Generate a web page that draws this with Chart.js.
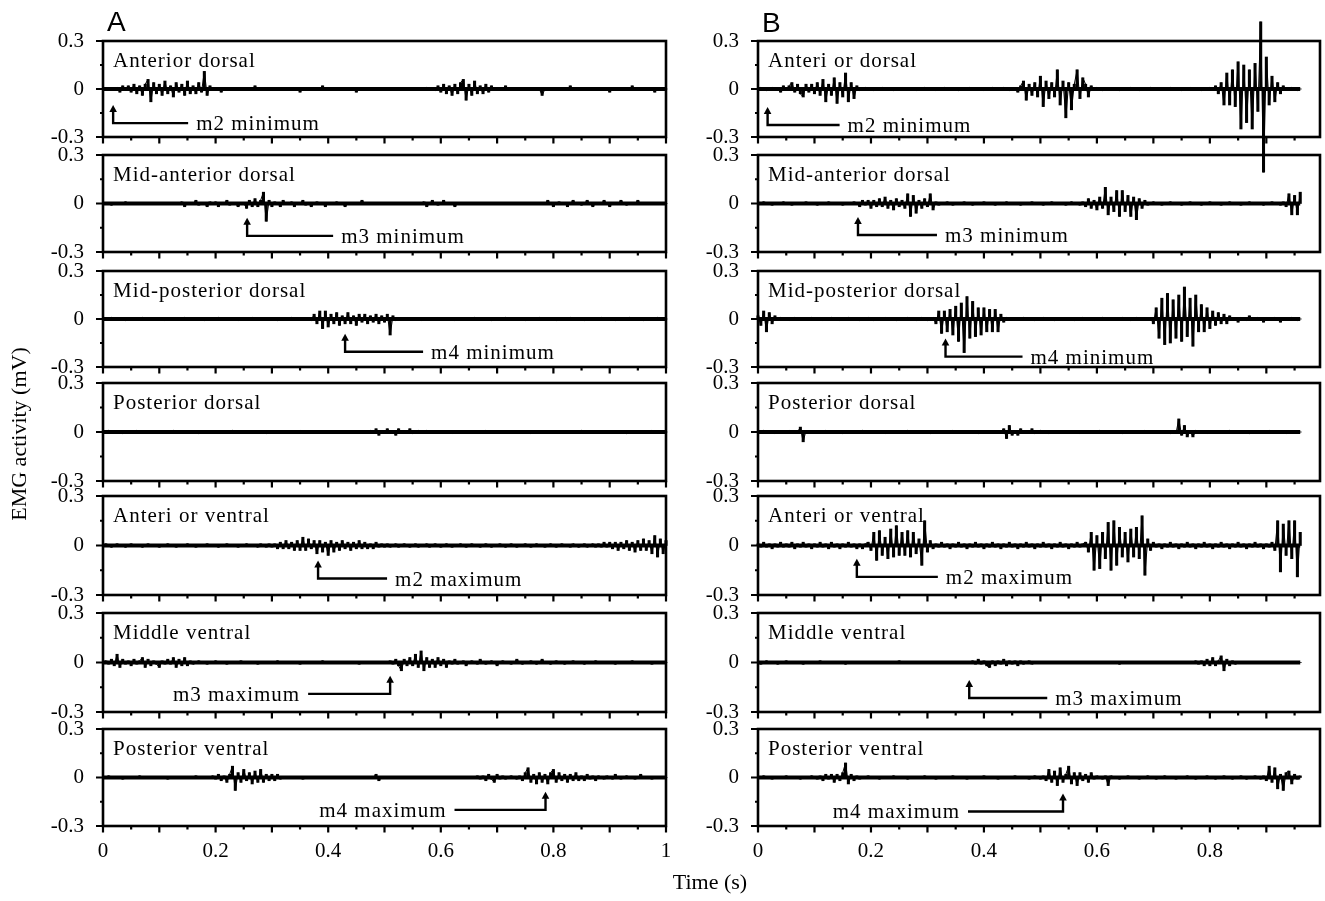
<!DOCTYPE html>
<html>
<head>
<meta charset="utf-8">
<script src="https://cdn.jsdelivr.net/npm/chart.js@4/dist/chart.umd.min.js"></script>
<style>
html,body{margin:0;padding:0;background:#fff;}
#wrap{position:relative;width:1325px;height:901px;overflow:hidden;background:#fff;font-family:"Liberation Serif","Times New Roman",serif;color:#000;}
#wrap canvas{position:absolute;}
.lbl{position:absolute;white-space:nowrap;z-index:5;color:#000;}
</style>
</head>
<body>
<div id="wrap">
  <div class="lbl" style="left:107px;top:6px;font-family:'Liberation Sans',Arial,sans-serif;font-size:28px;line-height:32px;">A</div>
  <div class="lbl" style="left:762px;top:7px;font-family:'Liberation Sans',Arial,sans-serif;font-size:28px;line-height:32px;">B</div>
  <div class="lbl" style="left:18.5px;top:434px;font-size:22px;line-height:22px;transform:translate(-50%,-50%) rotate(-90deg);">EMG activity (mV)</div>
  <div class="lbl" style="left:710px;top:871px;font-size:22px;line-height:22px;transform:translateX(-50%);">Time (s)</div>
</div>
<script>
// ---------------- DATA ----------------
// Traces are sampled every STEP_S seconds; values are in units of 0.01 mV.
const STEP_S = 0.005;
const UNIT_MV = 0.01;

const TITLES_A = ["Anterior dorsal","Mid-anterior dorsal","Mid-posterior dorsal","Posterior dorsal","Anteri or ventral","Middle ventral","Posterior ventral"];
const TITLES_B = ["Anteri or dorsal","Mid-anterior dorsal","Mid-posterior dorsal","Posterior dorsal","Anteri or ventral","Middle ventral","Posterior ventral"];

const Y_LABEL_TICKS = [-0.3, 0, 0.3];
const Y_LABELS = ["-0.3", "0", "0.3"];
const Y_MINOR_TICKS = [-0.15, 0.15];

const X_LABEL_TICKS_A = [0, 0.2, 0.4, 0.6, 0.8, 1];
const X_LABELS_A = ["0", "0.2", "0.4", "0.6", "0.8", "1"];
const X_LABEL_TICKS_B = [0, 0.2, 0.4, 0.6, 0.8];
const X_LABELS_B = ["0", "0.2", "0.4", "0.6", "0.8"];
const X_MAJOR_A = [0, 0.1, 0.2, 0.3, 0.4, 0.5, 0.6, 0.7, 0.8, 0.9, 1];
const X_MINOR_A = [0.05, 0.15, 0.25, 0.35, 0.45, 0.55, 0.65, 0.75, 0.85, 0.95];
const X_MAJOR_B = [0, 0.1, 0.2, 0.3, 0.4, 0.5, 0.6, 0.7, 0.8, 0.9];
const X_MINOR_B = [0.05, 0.15, 0.25, 0.35, 0.45, 0.55, 0.65, 0.75, 0.85, 0.95];
const X_MAX_A = 1;
const X_MAX_B = 0.995;

// Arrow annotations: time (s) of the arrow, level (mV) of the horizontal leader, label, side of label
const ANNOT_TIME_A  = [0.018, 0.256, 0.43, null, 0.382, 0.51, 0.786];
const ANNOT_LEVEL_A = [-0.213, -0.2, -0.205, null, -0.2, -0.19, -0.2];
const ANNOT_TEXT_A  = ["m2 minimum", "m3 minimum", "m4 minimum", null, "m2 maximum", "m3 maximum", "m4 maximum"];
const ANNOT_SIDE_A  = ["right", "right", "right", null, "right", "left", "left"];
const ANNOT_TIME_B  = [0.017, 0.177, 0.332, null, 0.175, 0.374, 0.54];
const ANNOT_LEVEL_B = [-0.225, -0.195, -0.235, null, -0.19, -0.215, -0.21];
const ANNOT_TEXT_B  = ["m2 minimum", "m3 minimum", "m4 minimum", null, "m2 maximum", "m3 maximum", "m4 maximum"];
const ANNOT_SIDE_B  = ["right", "right", "right", null, "right", "right", "left"];

// Column A traces (0 - 1.0 s, 201 samples)
const A_ANTERIOR_DORSAL = [
0,0,0,0,0,1,-2,2,-1,2,-2,3,-3,2,-4,3,6,-8,4,-3,
3,-4,5,-3,2,-5,4,-2,3,-4,5,-3,2,-3,4,-2,11,-4,2,0,
0,0,-2,0,0,0,0,0,0,0,0,0,0,0,2,0,0,0,0,0,
0,0,0,0,0,0,0,0,0,0,-2,0,0,0,0,0,0,0,2,0,
0,0,0,0,0,0,0,0,0,0,-2,0,0,0,0,0,0,0,0,0,
0,0,0,0,0,0,0,0,0,0,0,0,0,0,0,1,0,0,-1,2,
-2,3,-3,2,-4,3,-3,4,6,-7,3,-4,5,-3,2,-3,3,-2,2,-1,
0,0,0,2,0,0,0,0,0,0,0,0,0,0,0,0,-4,0,0,0,
0,0,0,0,0,0,2,0,0,0,0,0,0,0,0,0,0,0,0,0,
-2,0,0,0,0,0,0,0,2,0,0,0,0,0,0,0,-2,0,0,0,
0];
const A_MID_ANTERIOR_DORSAL = [
0,0,0,-1,0,0,0,0,1,0,0,0,0,0,0,0,0,0,0,0,
0,0,0,0,0,0,0,0,1,-2,0,0,0,2,-1,0,0,-2,1,0,
1,-2,0,0,2,-1,0,0,-2,0,0,-3,2,-2,3,-2,2,7,-11,2,
-2,1,0,-2,2,0,0,1,-2,0,0,2,-1,0,-2,0,1,0,0,-2,
0,0,0,1,0,0,-2,0,0,0,0,0,2,0,0,0,0,0,0,0,
0,0,0,0,0,0,0,0,0,0,0,0,0,0,1,-2,0,2,0,-1,
0,2,0,0,0,-2,0,0,0,0,0,0,0,0,0,0,0,0,0,0,
0,0,0,0,0,0,0,0,0,0,0,0,0,0,0,0,0,0,2,0,
-2,0,1,0,0,-2,0,2,0,0,-1,0,2,0,-2,0,0,0,2,0,
-2,0,0,0,2,0,-1,0,0,0,2,0,0,0,0,0,0,0,0,0,
0];
const A_MID_POSTERIOR_DORSAL = [
0,0,0,1,0,0,0,0,-1,0,0,0,0,0,1,0,0,0,0,0,
0,0,-1,0,0,0,0,0,0,1,0,0,0,0,0,0,-1,0,0,0,
0,1,0,0,0,0,0,0,-1,0,0,0,0,1,0,0,0,0,0,0,
0,0,-1,0,0,0,0,1,0,0,0,0,0,0,-1,3,-3,5,-6,5,
-5,3,-3,4,-4,2,-3,4,-3,2,-4,3,-2,3,-3,2,-2,3,-3,2,
-2,3,-10,2,-1,0,0,0,1,0,0,0,0,-1,0,0,0,0,0,1,
0,0,0,0,0,-1,0,0,0,0,0,0,1,0,0,0,0,0,-1,0,
0,0,0,1,0,0,0,0,0,0,-1,0,0,0,0,1,0,0,0,0,
0,-1,0,0,0,0,1,0,0,0,0,-1,0,0,0,0,0,1,0,0,
0,0,-1,0,0,0,0,1,0,0,0,0,-1,0,0,0,0,1,0,0,
0];
const A_POSTERIOR_DORSAL = [
0,0,1,0,0,0,0,-1,0,0,0,0,1,0,0,0,0,0,0,0,
0,0,0,0,0,1,0,0,0,0,0,0,0,0,-1,0,0,0,0,0,
0,0,0,0,0,0,1,0,0,0,0,0,0,0,0,0,0,0,-1,0,
0,0,0,0,0,0,0,0,0,0,1,0,0,0,0,0,0,0,0,0,
0,0,0,0,0,0,0,0,0,0,0,0,0,0,0,1,-1,2,-2,1,
-1,2,-1,1,-2,2,-1,1,-1,2,-1,0,1,-1,0,1,0,0,0,0,
0,0,0,0,-1,0,0,0,0,0,0,0,0,0,0,0,1,0,0,0,
0,0,0,0,0,0,0,0,0,0,0,0,-1,0,0,0,0,0,0,0,
0,0,0,0,0,0,0,0,0,0,1,0,0,0,0,0,0,0,0,0,
0,0,0,0,0,0,-1,0,0,0,0,0,0,0,0,1,0,0,0,0,
0];
const A_ANTERIOR_VENTRAL = [
0,1,0,-1,0,1,0,0,-1,0,1,0,0,0,-1,0,1,0,0,0,
-1,0,0,1,0,0,-1,0,0,0,1,0,0,-1,0,0,0,1,0,0,
0,-1,0,0,1,0,0,0,-1,0,0,1,0,0,0,-1,1,0,-1,1,
-1,1,-2,2,-2,3,-2,2,-3,3,-3,5,-3,4,-2,3,-5,3,-4,2,
-6,3,-4,2,-3,3,-2,2,-3,2,-2,3,-2,2,-2,1,-2,2,-1,1,
-1,1,-1,0,1,-1,0,1,0,-1,0,1,-1,0,0,1,-1,0,1,0,
-1,0,1,0,-1,0,0,1,0,-1,0,1,0,0,-1,0,1,0,-1,0,
0,1,0,-1,0,1,0,-1,0,0,1,0,-1,0,1,0,0,-1,0,1,
0,-1,0,1,0,0,-1,1,0,-1,0,1,-1,0,1,-1,1,-1,2,-1,
2,-2,2,-3,2,-2,3,-3,2,-4,3,-3,4,-3,3,-5,6,-7,4,-5,
3];
const A_MIDDLE_VENTRAL = [
0,1,-1,2,-2,5,-3,2,-1,1,-2,2,-1,1,3,-3,2,-2,1,-1,
-3,1,-1,2,-1,3,-3,2,-2,3,-2,1,-1,0,1,0,0,-1,0,0,
1,0,0,0,-1,0,0,0,0,1,0,0,0,0,0,-1,0,0,0,0,
0,0,1,0,0,0,0,0,0,0,-1,0,0,0,0,0,0,0,1,0,
0,0,0,0,0,0,0,0,0,0,0,-1,0,0,0,0,0,0,0,0,
0,0,1,-1,2,-2,-5,2,-2,3,-2,5,-3,7,-5,3,-3,2,-3,3,
-2,2,-3,1,-1,2,-1,0,1,-2,0,1,0,-1,2,0,-1,0,1,0,
-2,0,1,0,0,-1,0,2,0,-1,0,0,1,0,-1,0,2,0,0,-1,
0,1,0,0,-1,0,0,1,0,0,0,-1,0,0,0,1,0,0,0,0,
0,0,-1,0,0,0,0,0,1,0,0,0,0,0,0,-1,0,0,0,0,
0];
const A_POSTERIOR_VENTRAL = [
0,0,1,0,0,0,0,-1,0,0,0,0,0,1,0,0,0,0,0,0,
0,0,0,-1,0,0,0,0,0,0,0,0,0,1,0,0,0,0,0,1,
-1,2,-2,1,-3,2,7,-8,3,-3,5,-2,3,-4,4,-3,5,-3,2,-2,
2,-2,2,-1,0,0,0,0,0,0,0,-1,0,0,0,0,0,0,0,0,
0,0,0,0,0,0,0,0,0,0,0,0,0,0,0,0,0,2,-2,0,
0,0,0,0,0,0,0,0,0,0,0,0,0,0,0,0,0,0,0,0,
0,0,0,0,0,0,0,0,0,0,0,0,0,1,-1,1,-2,2,-1,-3,
2,-1,1,-1,0,1,0,-1,1,-2,3,6,-3,2,-4,3,-3,2,-4,3,
5,-3,3,-2,2,-3,2,-2,3,-2,1,-2,2,-1,1,-2,1,0,-1,1,
0,-1,2,0,-1,0,1,0,0,-1,0,2,0,0,0,-1,0,0,0,0,
0];

// Column B traces (0 - 0.96 s, 193 samples)
const B_ANTERIOR_DORSAL = [
0,1,0,-1,0,1,0,1,-2,2,-1,2,4,-2,3,-3,-5,3,-2,3,
-3,4,-4,6,-8,3,-4,7,-9,4,-5,10,-8,4,-6,2,-1,0,1,0,
0,-1,0,0,1,0,0,0,-1,0,0,1,0,0,0,0,-1,0,0,1,
0,0,0,-1,0,0,1,0,0,0,0,-1,0,0,0,1,0,0,0,0,
-1,0,0,1,0,0,-1,1,0,-1,1,0,-2,2,5,-7,3,-4,4,-5,
8,-11,5,-6,4,-5,12,-10,5,-18,4,-13,3,12,-6,7,3,-5,2,-1,
1,0,-1,0,0,1,0,0,-1,0,0,0,1,0,0,-1,0,0,0,1,
0,0,-1,0,0,0,1,0,0,0,-1,0,0,1,0,0,0,-1,0,0,
1,0,2,-3,4,-10,10,-10,12,-11,17,-25,15,-21,12,-25,16,-14,42,-52,
20,-10,8,-8,4,-3,2,-1,0,1,0,-1,0];
const B_MID_ANTERIOR_DORSAL = [
0,0,1,0,0,-1,0,0,0,1,0,0,-1,0,0,0,0,1,0,0,
0,-1,0,0,0,1,0,0,0,0,-1,0,0,0,1,0,-2,2,-1,2,
-3,2,-2,3,-2,4,-3,2,-4,3,-2,2,-3,6,-8,5,-6,2,-3,3,
-2,6,-4,1,-1,0,0,1,0,-1,0,0,0,1,0,0,-1,0,0,0,
1,0,0,0,-1,0,0,0,1,0,0,0,0,-1,0,0,0,1,0,0,
0,-1,0,0,1,0,0,0,0,-1,0,1,0,0,-1,1,-2,3,-3,2,
-4,4,-3,10,-7,4,-5,8,-8,8,-5,5,-8,4,-10,3,-3,2,-1,0,
1,0,0,-1,0,0,1,0,0,0,-1,0,0,1,0,0,0,-1,0,0,
1,0,0,0,-1,0,0,1,0,0,0,-1,0,0,1,0,0,0,0,-1,
0,0,1,0,0,-1,1,-2,6,-7,5,-7,7];
const B_MID_POSTERIOR_DORSAL = [
2,-4,5,-8,4,-3,2,-1,1,0,0,-1,0,1,0,0,0,-1,0,1,
0,0,0,-1,0,0,1,0,0,-1,0,0,1,0,0,0,-1,0,0,1,
0,-1,0,0,0,1,0,0,0,-1,0,0,0,1,0,0,-1,0,1,0,
-1,0,1,-3,5,-9,5,-8,6,-10,8,-14,10,-21,14,-12,11,-11,7,-10,
7,-8,6,-8,6,-8,3,-2,1,0,0,-1,0,0,1,0,0,0,-1,0,
0,1,0,0,0,-1,0,0,1,0,0,0,-1,0,0,1,0,0,0,-1,
0,0,1,0,0,-1,0,0,0,1,0,0,-1,0,1,-1,0,1,-1,1,
-3,7,-12,13,-16,16,-15,12,-12,15,-14,20,-11,13,-17,15,-8,9,-8,7,
-6,5,-4,4,-3,3,-3,2,-1,1,-2,1,0,-1,2,0,-1,1,0,-2,
1,0,-1,1,0,-2,1,0,-1,1,0,-1,0];
const B_POSTERIOR_DORSAL = [
0,0,1,0,0,0,-1,0,0,0,0,1,0,0,0,3,-6,1,0,0,
0,0,0,0,1,0,0,0,0,0,-1,0,0,0,0,0,0,1,0,0,
0,0,0,0,0,-1,0,0,0,0,0,0,0,1,0,0,0,0,0,0,
0,-1,0,0,0,0,0,0,0,1,0,0,0,0,0,0,0,0,-1,0,
0,0,0,0,0,0,0,2,-4,4,-2,1,-2,2,-1,1,-1,2,-1,0,
1,0,0,-1,0,0,0,0,1,0,0,0,0,0,-1,0,0,0,0,0,
0,1,0,0,0,0,0,0,0,-1,0,0,0,0,0,0,0,1,0,0,
0,0,0,0,0,0,-1,1,-1,8,-2,4,-3,1,-3,1,0,0,0,-1,
0,0,0,0,0,0,0,1,0,0,0,0,0,0,-1,0,0,0,0,0,
0,1,0,0,0,0,0,-1,0,0,0,0,0];
const B_ANTERIOR_VENTRAL = [
1,-1,2,-1,1,-2,1,-1,2,-1,1,-1,2,-2,1,-1,2,-1,1,-2,
1,-1,2,-1,1,-2,2,-1,1,-2,1,-1,2,-1,1,-2,1,-2,1,2,
-3,8,-9,9,-6,5,-8,10,-7,12,-6,8,-6,9,-7,8,-5,4,-12,15,
-4,3,-2,1,-1,2,-1,1,-2,1,-1,2,-1,1,-2,1,-1,2,-1,1,
-2,1,-1,2,-1,1,-2,1,-1,2,-1,1,-2,1,-1,2,-1,1,-2,1,
-1,2,-1,1,-2,1,-1,2,-1,1,-2,1,-1,2,-1,1,2,-4,8,-15,
6,-14,8,-8,14,-15,15,-12,11,-7,8,-10,10,-7,11,-8,18,-18,4,-3,
2,-1,1,-2,1,-1,2,-1,1,-2,1,-1,2,-1,1,-2,1,-1,2,-1,
1,-2,1,-1,2,-1,1,-2,1,-1,2,-1,1,-2,1,-1,2,-1,1,-2,
1,-1,2,-3,15,-16,13,-6,15,-8,15,-19,8];
const B_MIDDLE_VENTRAL = [
0,-1,0,1,0,0,0,-1,0,0,1,0,0,0,0,0,-1,0,0,0,
0,0,1,0,0,0,0,0,0,0,0,-1,0,0,0,0,0,0,0,0,
0,0,0,0,0,0,0,0,0,0,1,0,0,0,0,0,0,0,0,0,
0,0,0,0,0,0,0,0,0,0,0,0,0,0,0,0,1,-1,2,-1,
1,-2,-3,1,-2,1,-1,2,-2,1,-1,1,-2,1,-1,0,1,-1,0,0,
0,0,0,0,0,0,0,0,0,0,0,0,0,0,0,0,0,0,0,0,
0,0,0,0,0,0,0,0,-1,0,0,0,0,0,0,0,0,0,0,0,
0,0,0,0,0,0,0,0,0,0,0,0,0,0,0,1,-1,1,-2,2,
-2,3,-2,1,4,-5,2,-2,1,-1,0,0,0,0,0,0,0,0,0,0,
0,0,0,0,0,0,0,0,0,0,0,0,0];
const B_POSTERIOR_VENTRAL = [
0,0,1,0,0,-1,0,0,0,0,1,0,0,0,0,-1,0,0,0,1,
0,-1,1,-2,2,-1,2,-3,2,-2,3,9,-4,2,-2,1,-1,0,0,1,
0,0,0,-1,0,0,0,0,1,0,0,0,0,-1,0,0,0,0,0,1,
0,0,0,-1,0,0,0,0,0,1,0,0,0,0,-1,0,0,0,0,0,
1,0,0,0,0,-1,0,0,0,0,0,1,0,0,0,0,-1,0,1,0,
-1,1,-2,5,-3,4,-5,6,-3,2,7,-4,3,-5,3,-2,2,-3,3,-1,
1,0,-1,1,-5,1,0,0,-1,0,0,1,0,0,0,-1,0,0,1,0,
0,-1,0,0,1,0,0,0,-1,0,0,0,1,0,0,-1,0,0,0,1,
0,0,-1,0,0,1,0,0,-1,0,0,1,0,-1,0,0,1,0,-1,1,
-2,7,-3,6,-7,2,-8,3,4,-4,2,-1,1];

const TRACES_A = [A_ANTERIOR_DORSAL, A_MID_ANTERIOR_DORSAL, A_MID_POSTERIOR_DORSAL, A_POSTERIOR_DORSAL, A_ANTERIOR_VENTRAL, A_MIDDLE_VENTRAL, A_POSTERIOR_VENTRAL];
const TRACES_B = [B_ANTERIOR_DORSAL, B_MID_ANTERIOR_DORSAL, B_MID_POSTERIOR_DORSAL, B_POSTERIOR_DORSAL, B_ANTERIOR_VENTRAL, B_MIDDLE_VENTRAL, B_POSTERIOR_VENTRAL];

// ---------------- LAYOUT ----------------
const COL_LEFT = [103, 758];
const COL_RIGHT = [666, 1320];
const ROW_TOP = [41, 155, 271, 383, 496, 613, 729];
const ROW_BOTTOM = [137, 252, 367, 481, 595, 712, 826];
const ANNOT_LINE_PX_A = [75, 86, 78, 0, 69, 82, 91];
const ANNOT_LINE_PX_B = [72, 79, 77, 0, 81, 78, 95];
const SERIF = "'Liberation Serif', 'Times New Roman', serif";

function decoPlugin(info) {
  return {
    id: 'deco',
    afterDatasetsDraw(chart) {
      const ctx = chart.ctx, ca = chart.chartArea;
      const xs = chart.scales.x, ys = chart.scales.y;
      ctx.save();
      ctx.strokeStyle = '#000';
      ctx.fillStyle = '#000';
      ctx.lineCap = 'butt';
      // frame
      ctx.lineWidth = 2.6;
      ctx.strokeRect(ca.left, ca.top, ca.right - ca.left, ca.bottom - ca.top);
      // tick marks
      ctx.lineWidth = 2.2;
      ctx.beginPath();
      Y_LABEL_TICKS.forEach(v => { const p = ys.getPixelForValue(v); ctx.moveTo(ca.left, p); ctx.lineTo(ca.left - 7, p); });
      Y_MINOR_TICKS.forEach(v => { const p = ys.getPixelForValue(v); ctx.moveTo(ca.left, p); ctx.lineTo(ca.left - 3, p); });
      info.xMajor.forEach(v => { const p = xs.getPixelForValue(v); ctx.moveTo(p, ca.bottom); ctx.lineTo(p, ca.bottom + 6.5); });
      info.xMinor.forEach(v => { const p = xs.getPixelForValue(v); ctx.moveTo(p, ca.bottom); ctx.lineTo(p, ca.bottom + 3.5); });
      ctx.stroke();
      // panel title
      ctx.font = '21px ' + SERIF;
      try { ctx.letterSpacing = '1px'; } catch (e) {}
      ctx.textAlign = 'left';
      ctx.textBaseline = 'alphabetic';
      ctx.fillText(info.title, ca.left + 10, ca.top + 26);
      // annotation arrow
      if (info.annotT !== null) {
        const ax = xs.getPixelForValue(info.annotT);
        const ly = ys.getPixelForValue(info.annotLevel);
        const tipY = ly - 18;
        const len = info.annotLen;
        ctx.lineWidth = 2.4;
        ctx.beginPath();
        ctx.moveTo(ax, tipY + 5);
        ctx.lineTo(ax, ly);
        if (info.annotSide === 'right') ctx.lineTo(ax + len, ly);
        else ctx.lineTo(ax - len, ly);
        ctx.stroke();
        ctx.beginPath();
        ctx.moveTo(ax, tipY);
        ctx.lineTo(ax - 3.8, tipY + 7);
        ctx.lineTo(ax + 3.8, tipY + 7);
        ctx.closePath();
        ctx.fill();
        if (info.annotSide === 'right') {
          ctx.textAlign = 'left';
          ctx.fillText(info.annotText, ax + len + 8, ly + 7);
        } else {
          ctx.textAlign = 'right';
          ctx.fillText(info.annotText, ax - len - 8, ly + 7);
        }
      }
      try { ctx.letterSpacing = '0px'; } catch (e) {}
      ctx.restore();
    }
  };
}

function makePanel(col, r) {
  const wrap = document.getElementById('wrap');
  const L = COL_LEFT[col], R = COL_RIGHT[col], T = ROW_TOP[r], B = ROW_BOTTOM[r];
  const isBottom = r === 6;
  const padL = 70, padT = 30, padR = col === 0 ? 12 : 4;
  const axisH = isBottom ? 72 : 44;
  const cw = padL + (R - L) + padR;
  const ch = padT + (B - T) + axisH;
  const cv = document.createElement('canvas');
  cv.width = cw; cv.height = ch;
  cv.style.width = cw + 'px'; cv.style.height = ch + 'px';
  cv.style.left = (L - padL) + 'px';
  cv.style.top = (T - padT) + 'px';
  wrap.appendChild(cv);

  const trace = col === 0 ? TRACES_A[r] : TRACES_B[r];
  const pts = trace.map((v, i) => ({ x: i * STEP_S, y: v * UNIT_MV }));
  const tEnd = (trace.length - 1) * STEP_S;
  const labelTicks = col === 0 ? X_LABEL_TICKS_A : X_LABEL_TICKS_B;
  const labelTexts = col === 0 ? X_LABELS_A : X_LABELS_B;

  const info = {
    title: col === 0 ? TITLES_A[r] : TITLES_B[r],
    xMajor: col === 0 ? X_MAJOR_A : X_MAJOR_B,
    xMinor: col === 0 ? X_MINOR_A : X_MINOR_B,
    annotT: col === 0 ? ANNOT_TIME_A[r] : ANNOT_TIME_B[r],
    annotLevel: col === 0 ? ANNOT_LEVEL_A[r] : ANNOT_LEVEL_B[r],
    annotText: col === 0 ? ANNOT_TEXT_A[r] : ANNOT_TEXT_B[r],
    annotSide: col === 0 ? ANNOT_SIDE_A[r] : ANNOT_SIDE_B[r],
    annotLen: col === 0 ? ANNOT_LINE_PX_A[r] : ANNOT_LINE_PX_B[r]
  };

  new Chart(cv, {
    type: 'line',
    data: {
      datasets: [
        { type: 'bar', data: pts, backgroundColor: '#000', borderWidth: 0, barThickness: 2.4, clip: false, order: 1 },
        { type: 'line', data: pts, borderColor: '#000', borderWidth: 1.0, pointRadius: 0, tension: 0, fill: false, clip: false, order: 2 },
        { type: 'line', data: [{ x: 0, y: 0 }, { x: tEnd, y: 0 }], borderColor: '#000', borderWidth: 3.8, pointRadius: 0, fill: false, order: 3 }
      ]
    },
    options: {
      responsive: false,
      animation: false,
      events: [],
      layout: { padding: { left: 0, top: padT, right: padR, bottom: 0 } },
      plugins: { legend: { display: false }, tooltip: { enabled: false }, title: { display: false } },
      scales: {
        x: {
          type: 'linear',
          offset: false,
          min: 0,
          max: col === 0 ? X_MAX_A : X_MAX_B,
          grid: { display: false, drawTicks: false, offset: false },
          border: { display: false },
          afterBuildTicks: axis => { axis.ticks = labelTicks.map(v => ({ value: v })); },
          afterFit: s => { s.height = axisH; s.paddingLeft = 0; s.paddingRight = 0; },
          ticks: {
            display: isBottom,
            autoSkip: false,
            maxRotation: 0,
            padding: 13,
            color: '#000',
            font: { family: SERIF, size: 21 },
            callback: (v, i) => labelTexts[i]
          }
        },
        y: {
          type: 'linear',
          min: -0.3,
          max: 0.3,
          grid: { display: false, drawTicks: false },
          border: { display: false },
          afterBuildTicks: axis => { axis.ticks = Y_LABEL_TICKS.map(v => ({ value: v })); },
          afterFit: s => { s.width = padL; s.paddingTop = 0; s.paddingBottom = 0; },
          ticks: {
            autoSkip: false,
            padding: 19,
            color: '#000',
            font: { family: SERIF, size: 21 },
            callback: (v, i) => Y_LABELS[i]
          }
        }
      }
    },
    plugins: [decoPlugin(info)]
  });
}

for (let r = 0; r < 7; r++) { makePanel(0, r); makePanel(1, r); }
</script>
</body>
</html>
